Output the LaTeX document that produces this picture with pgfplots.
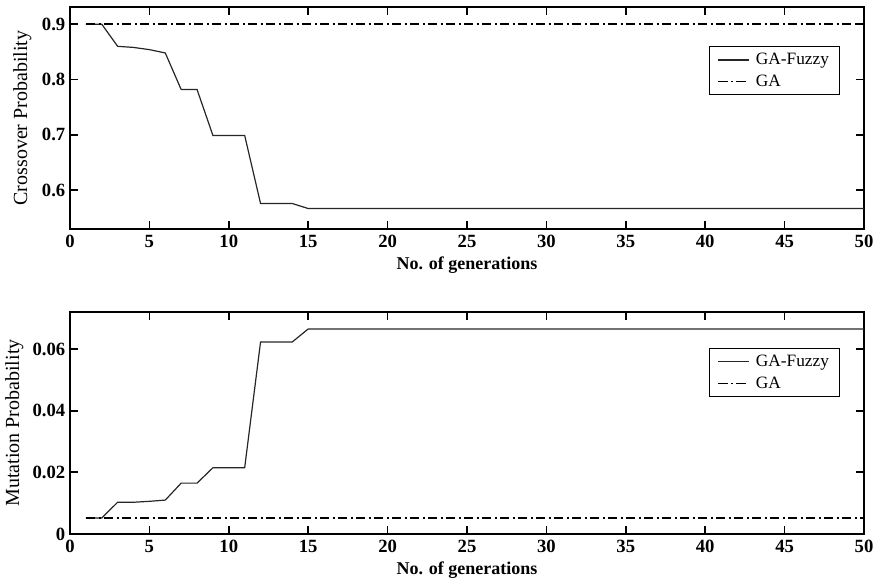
\documentclass[border=0pt]{standalone}
\usepackage{fontspec}
\setmainfont{Liberation Serif}
\usepackage{pgfplots}
\pgfplotsset{compat=1.18}

\pgfplotsset{
  ga panel/.style={
    scale only axis,
    width=595.5pt, height=166.5pt,
    xmin=0, xmax=50,
    xtick={0,5,...,50},
    tick pos=both,
    tick align=inside,
    tickwidth=6pt,
    every tick/.style={black, line width=1.3pt},
    axis line style={black, line width=1.5pt},
    every tick label/.append style={font=\fontsize{14}{16}\selectfont\bfseries},
    xticklabel style={yshift=-1pt},
    /pgf/number format/assume math mode=true,
    scaled y ticks=false,
    xlabel={No. of generations},
    xlabel style={font=\fontsize{13.5}{16}\selectfont\bfseries},
    legend cell align=left,
    legend style={font=\fontsize{13}{15}\selectfont, draw=black, line width=0.7pt,
      inner xsep=6pt, inner ysep=3pt, row sep=2pt},
    legend image code/.code={%
      \path (0cm,0cm) (0.9cm,0cm);
      \draw[#1] (0cm,0cm) -- (0.8cm,0cm);},
  },
  fuzzy/.style={black!85, line width=0.9pt},
  plain/.style={black, line width=1.1pt, dash pattern=on 7pt off 2.5pt on 1.5pt off 2.5pt},
}

\begin{document}
\begin{tikzpicture}
\useasboundingbox (-52.5pt,5.25pt) rectangle (606pt,-435pt);

\begin{axis}[ga panel,
  at={(0pt,0pt)}, anchor=north west,
  ymin=0.53, ymax=0.931,
  ytick={0.6,0.7,0.8,0.9},
  yticklabel style={/pgf/number format/fixed, /pgf/number format/precision=1},
  ylabel={Crossover Probability},
  ylabel style={font=\fontsize{15}{17}\selectfont, yshift=1pt},
  legend style={at={(0.97,0.824)}, anchor=north east},
]
\addplot[fuzzy] coordinates {
  (1,0.900)(2,0.900)(3,0.860)(4,0.858)(5,0.854)(6,0.848)(7,0.782)(8,0.782)
  (9,0.699)(10,0.699)(11,0.699)(12,0.576)(13,0.576)(14,0.576)(15,0.567)
  (20,0.567)(30,0.567)(40,0.567)(50,0.567)
};
\addlegendentry{GA-Fuzzy}
\addplot[plain] coordinates {(1,0.9)(50,0.9)};
\addlegendentry{GA}
\end{axis}

\begin{axis}[ga panel,
  at={(0pt,-228.75pt)}, anchor=north west,
  ymin=0, ymax=0.072,
  ytick={0,0.02,0.04,0.06},
  yticklabels={0,0.02,0.04,0.06},
  ylabel={Mutation Probability},
  ylabel style={font=\fontsize{15}{17}\selectfont, yshift=0pt},
  legend style={at={(0.97,0.838)}, anchor=north east},
]
\addplot[fuzzy] coordinates {
  (1,0.0052)(2,0.0052)(3,0.0103)(4,0.0103)(5,0.0106)(6,0.0110)(7,0.0165)(8,0.0165)
  (9,0.0215)(10,0.0215)(11,0.0215)(12,0.0623)(13,0.0623)(14,0.0623)(15,0.0665)
  (20,0.0665)(30,0.0665)(40,0.0665)(50,0.0665)
};
\addlegendentry{GA-Fuzzy}
\addplot[plain] coordinates {(1,0.0052)(50,0.0052)};
\addlegendentry{GA}
\end{axis}
\end{tikzpicture}
\end{document}
